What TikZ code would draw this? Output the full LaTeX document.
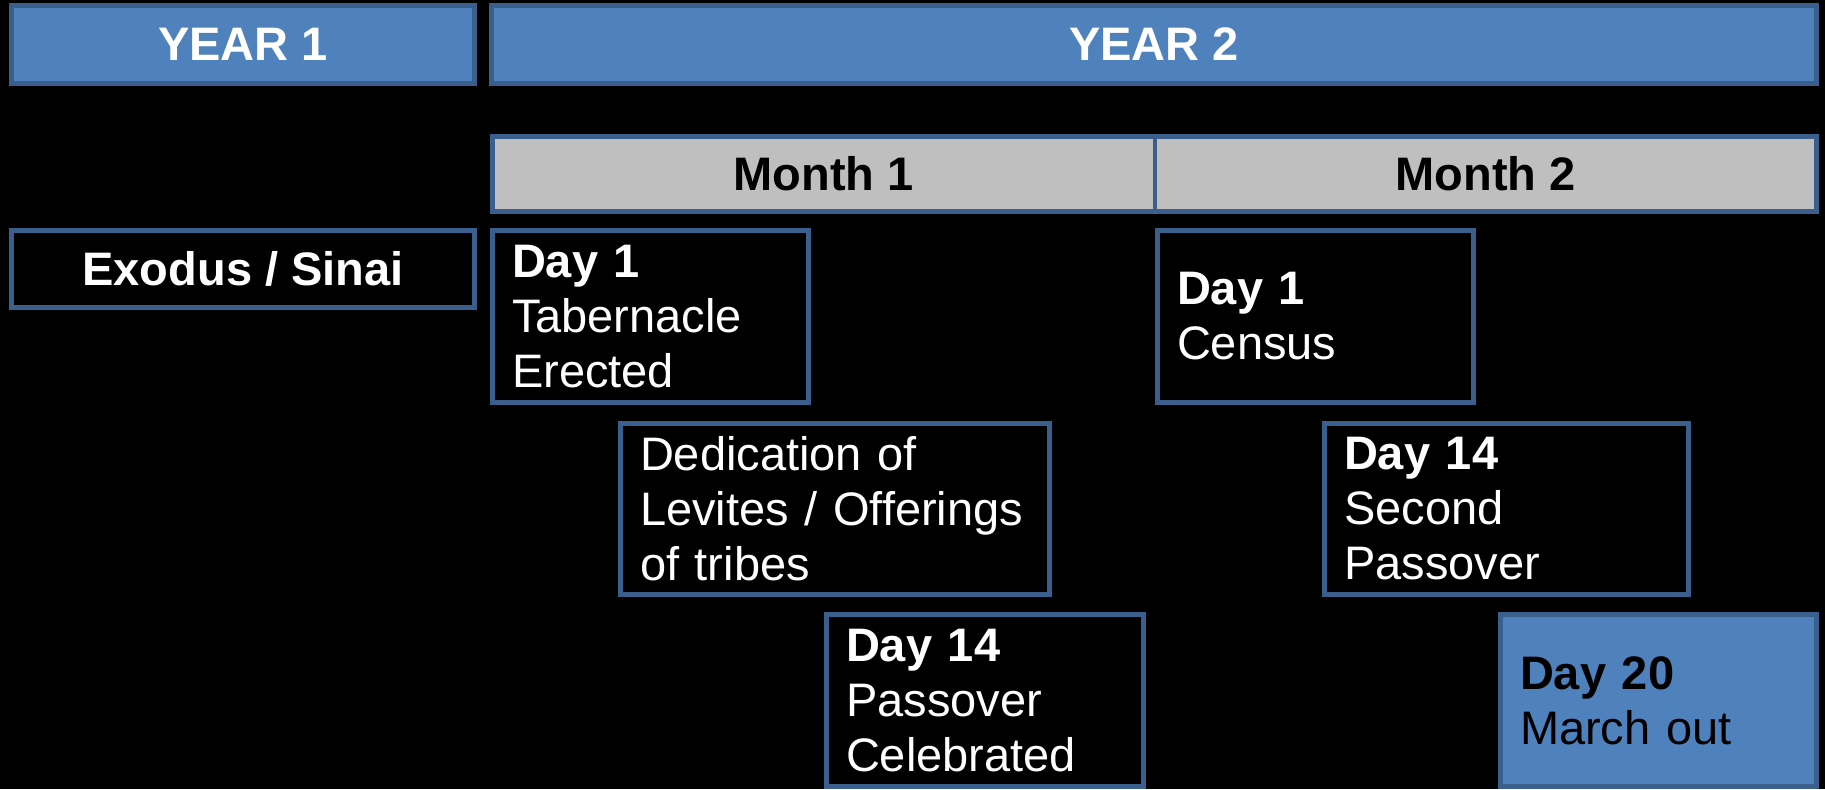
\documentclass[tikz,border=0pt]{standalone}
\usepackage{fontspec}
\setmainfont{Liberation Sans}
\definecolor{fillblue}{HTML}{4F81BD}
\definecolor{edgeblue}{HTML}{3A5F8C}
\definecolor{headgray}{HTML}{BFBFBF}
\begin{document}
\begin{tikzpicture}[
  bx/.style={draw=edgeblue, line width=0.09cm, inner sep=0pt, inner xsep=0.39cm,
    font=\fontsize{26.75}{31.3}\selectfont},
  head/.style={bx, fill=fillblue, text=white, font=\fontsize{26.75}{31.3}\selectfont\bfseries},
  month/.style={bx, fill=headgray, text=black, font=\fontsize{26.75}{31.3}\selectfont\bfseries},
  event/.style={bx, fill=black, text=white, align=left},
  goal/.style={bx, fill=fillblue, text=black, align=left}
]
\fill[black] (0,0) rectangle (36.5,-15.78);
\useasboundingbox (0,0) rectangle (36.5,-15.78);

\node[head, minimum width=9.26cm, minimum height=1.56cm] (y1) at (4.86,-0.89) {YEAR 1};
\node[head, minimum width=26.5cm, minimum height=1.56cm] (y2) at (23.08,-0.89) {YEAR 2};

\node[month, minimum width=13.25cm, minimum height=1.5cm] (m1) at (16.475,-3.48) {Month 1};
\node[month, minimum width=13.23cm, minimum height=1.5cm] (m2) at (29.715,-3.48) {Month 2};

\node[bx, fill=black, text=white, font=\fontsize{26.75}{31.3}\selectfont\bfseries,
  minimum width=9.26cm, minimum height=1.54cm] (ex) at (4.86,-5.38) {Exodus / Sinai};

\node[event, text width=5.54cm, minimum width=6.32cm, minimum height=3.44cm] (tab) at (13.01,-6.33)
  {\textbf{Day 1}\\Tabernacle\\Erected};
\node[event, text width=7.8cm, minimum width=8.58cm, minimum height=3.42cm] (ded) at (16.7,-10.18)
  {Dedication of\\Levites / Offerings\\of tribes};
\node[event, text width=5.56cm, minimum width=6.34cm, minimum height=3.44cm] (pass) at (19.7,-14.01)
  {\textbf{Day 14}\\Passover\\Celebrated};
\node[event, text width=5.54cm, minimum width=6.32cm, minimum height=3.44cm] (cen) at (26.31,-6.33)
  {\textbf{Day 1}\\Census};
\node[event, text width=6.5cm, minimum width=7.28cm, minimum height=3.42cm] (sec) at (30.13,-10.18)
  {\textbf{Day 14}\\Second\\Passover};
\node[goal, text width=5.54cm, minimum width=6.32cm, minimum height=3.44cm] (mar) at (33.17,-14.01)
  {\textbf{Day 20}\\March out};
\end{tikzpicture}
\end{document}
